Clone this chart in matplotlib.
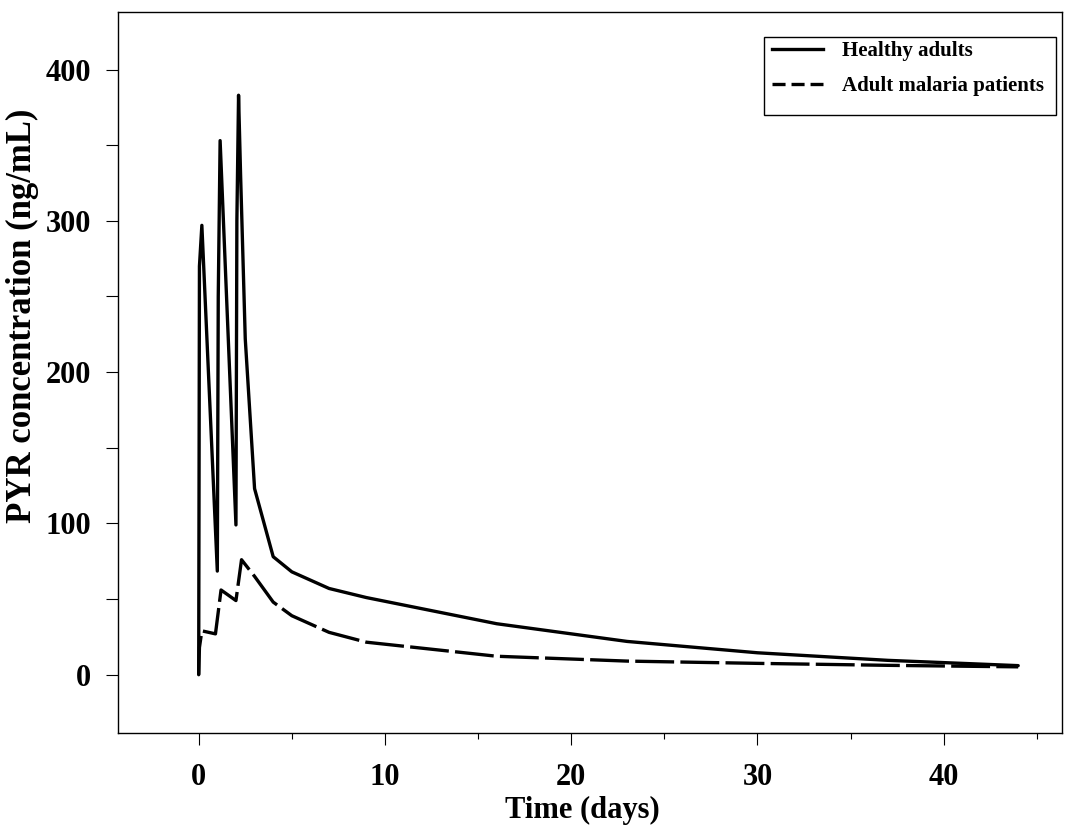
import matplotlib
matplotlib.use("Agg")
import matplotlib.pyplot as plt
from matplotlib.lines import Line2D
from matplotlib.patches import Rectangle
from matplotlib.ticker import MultipleLocator

# Data
healthy_t = [0.0, 0.04, 0.17, 1.0, 1.05, 1.15, 2.0, 2.05, 2.14, 2.25, 2.5, 3.0, 4.0, 5.0, 7.0, 9.0, 16.0, 23.0, 30.0, 37.0, 44.0]
healthy_c = [0.0, 270.0, 297.0, 68.5, 250.0, 353.0, 99.0, 300.0, 383.0, 330.0, 222.0, 123.0, 78.0, 68.0, 57.0, 51.0, 33.7, 22.0, 14.5, 9.5, 6.0]

malaria_t = [0.0, 0.04, 0.17, 0.9, 1.2, 2.0, 2.3, 3.0, 4.0, 5.0, 7.0, 9.0, 16.0, 23.0, 30.0, 37.0, 44.0]
malaria_c = [0.0, 18.0, 29.0, 27.0, 56.0, 49.0, 76.0, 65.0, 48.0, 39.0, 28.0, 21.5, 12.2, 9.0, 7.5, 6.2, 5.2]

series_labels = ["Healthy adults", "Adult malaria patients"]
x_label = "Time (days)"
y_label = "PYR concentration (ng/mL)"

plt.rcParams['font.family'] = ['Liberation Serif', 'DejaVu Serif']
plt.rcParams['font.weight'] = 'bold'
plt.rcParams['lines.scale_dashes'] = False

fig = plt.figure(figsize=(10.89, 8.35), dpi=100)
ax = fig.add_axes([0.1084, 0.1222, 0.975 - 0.1084, 0.9856 - 0.1222])

ax.plot(healthy_t, healthy_c, color='black', lw=2.4, solid_joinstyle='round', solid_capstyle='round')
ax.plot(malaria_t, malaria_c, color='black', lw=2.4, dashes=(28, 4.5), dash_joinstyle='round')

ax.set_xlim(-4.33, 46.34)
ax.set_ylim(-38.5, 438)

ax.xaxis.set_major_locator(MultipleLocator(10))
ax.xaxis.set_minor_locator(MultipleLocator(5))
ax.yaxis.set_major_locator(MultipleLocator(100))
ax.yaxis.set_minor_locator(MultipleLocator(50))

ax.tick_params(axis='x', which='major', direction='out', length=8.5, width=0.8, labelsize=22, pad=13)
ax.tick_params(axis='x', which='minor', direction='out', length=4.3, width=0.8)
ax.tick_params(axis='y', which='both', direction='out', length=8.5, width=0.8, labelsize=22, pad=11)
for lab in ax.get_xticklabels() + ax.get_yticklabels():
    lab.set_fontweight('bold')

for sp in ax.spines.values():
    sp.set_linewidth(1.0)

ax.set_xlabel(x_label, fontsize=22, fontweight='bold')
ax.xaxis.label.set_va('center')
ax.xaxis.set_label_coords(0.492, -0.108, transform=ax.transAxes)
ax.set_ylabel(y_label, fontsize=25, fontweight='bold')
ax.yaxis.label.set_va('center')
ax.yaxis.set_label_coords(-0.101, 0.578, transform=ax.transAxes)

# legend frame (drawn separately so the text can sit as in the reference)
ax.add_patch(Rectangle((0.684, 0.857), 0.9936 - 0.684, 0.965 - 0.857, transform=ax.transAxes,
                       fill=True, facecolor='white', edgecolor='black', lw=1.0, zorder=4))
handles = [Line2D([], [], color='black', lw=2.4),
           Line2D([], [], color='black', lw=2.4, dashes=(9.4, 4.3))]
leg = ax.legend(handles, series_labels, loc='upper left', bbox_to_anchor=(0.6925, 0.960),
                frameon=False, handlelength=2.45, handletextpad=0.95, borderpad=0.0,
                borderaxespad=0.0, labelspacing=0.72,
                prop={'weight': 'bold', 'size': 15})
leg.set_zorder(5)

fig.savefig('out.png', dpi=100)
